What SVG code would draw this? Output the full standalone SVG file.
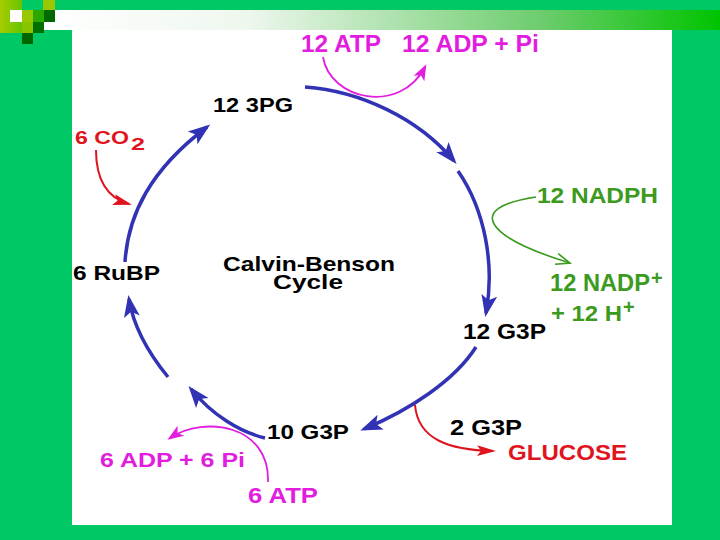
<svg xmlns="http://www.w3.org/2000/svg" width="720" height="540" viewBox="0 0 720 540">
<defs>
  <linearGradient id="band" x1="0" y1="0" x2="1" y2="0">
    <stop offset="0" stop-color="#ffffff"/>
    <stop offset="0.3" stop-color="#eef7ee"/>
    <stop offset="0.74" stop-color="#6ccc6c"/>
    <stop offset="1" stop-color="#00c400"/>
  </linearGradient>
  <linearGradient id="yg" x1="0" y1="0" x2="1" y2="0">
    <stop offset="0" stop-color="#a8cc00"/>
    <stop offset="1" stop-color="#66c400"/>
  </linearGradient>
  <marker id="ab" markerUnits="userSpaceOnUse" markerWidth="24" markerHeight="18" viewBox="0 0 24 18" refX="18" refY="9" orient="auto">
    <path d="M0,1 L22,9 L0,17 L5,9 Z" fill="#3232B4"/>
  </marker>
  <marker id="am" markerUnits="userSpaceOnUse" markerWidth="18" markerHeight="14" viewBox="0 0 18 14" refX="13" refY="7" orient="auto">
    <path d="M0,1 L16,7 L0,13 L4,7 Z" fill="#E21DE0"/>
  </marker>
  <marker id="ar" markerUnits="userSpaceOnUse" markerWidth="22" markerHeight="14" viewBox="0 0 22 14" refX="16" refY="7" orient="auto">
    <path d="M0,1.5 L19,7 L0,12.5 L4,7 Z" fill="#E0141E"/>
  </marker>
  <marker id="ag" markerUnits="userSpaceOnUse" markerWidth="18" markerHeight="14" viewBox="0 0 18 14" refX="15" refY="7" orient="auto">
    <path d="M1,1.5 L15,7 L1,12.5" fill="none" stroke="#3C9A1E" stroke-width="1.6"/>
  </marker>
</defs>
<style>
  text{font-family:"Liberation Sans",Arial,Helvetica,sans-serif;font-weight:bold;}
  .k{fill:#000000}
  .m{fill:#E21DE0}
  .r{fill:#E0141E}
  .g{fill:#3C9A1E}
  .cyc{fill:none;stroke:#3232B4;stroke-width:3.5;marker-end:url(#ab)}
  .cm{fill:none;stroke:#E21DE0;stroke-width:1.8;marker-end:url(#am)}
  .cr{fill:none;stroke:#E0141E;stroke-width:2;marker-end:url(#ar)}
  .cg{fill:none;stroke:#3C9A1E;stroke-width:1.6;marker-end:url(#ag)}
</style>

<!-- background frame -->
<rect x="0" y="0" width="720" height="540" fill="#00C864"/>
<rect x="44" y="10" width="676" height="20" fill="url(#band)"/>
<rect x="72" y="30" width="600" height="495" fill="#ffffff"/>
<rect x="0" y="0" width="22" height="33" fill="url(#yg)"/>
<rect x="10" y="10" width="12" height="12" fill="#ffffff"/>
<rect x="43" y="0" width="12" height="10" fill="#99c800"/>
<rect x="22" y="10" width="11" height="12" fill="#99c800"/>
<rect x="33" y="10" width="11" height="12" fill="#2aa800"/>
<rect x="44" y="10" width="11" height="12" fill="#006a00"/>
<rect x="22" y="22" width="11" height="11" fill="#88c400"/>
<rect x="33" y="22" width="11" height="11" fill="#007000"/>
<rect x="22" y="33" width="11" height="11" fill="#006600"/>

<!-- connectors -->
<g id="connectors">
  <path class="cyc" d="M125,262 C128,215 150,170 207,127"/>
  <path class="cyc" d="M305,87 C360,91 418,118 454,161"/>
  <path class="cyc" d="M458,171 C485,210 495,265 486,313"/>
  <path class="cyc" d="M476,347 C455,380 410,410 364,429"/>
  <path class="cyc" d="M265,438 C240,432 212,415 191,389"/>
  <path class="cyc" d="M168,377 C150,355 134,330 129,299"/>
  <path class="cm" d="M323,57 C330,100 400,115 425,67"/>
  <path class="cm" d="M268,482 C270,425 205,415 170,438"/>
  <path class="cr" d="M96,150 C96,180 108,198 129,204"/>
  <path class="cr" d="M415,405 C418,440 450,450 493,451"/>
  <path class="cg" d="M536,197 C462,208 488,238 570,263"/>
</g>

<!-- nodes -->
<g id="n-3pg"><text class="k" x="213" y="112" font-size="20" textLength="80" lengthAdjust="spacingAndGlyphs">12 3PG</text></g>
<g id="n-atp12"><text class="m" x="301" y="52" font-size="24" textLength="80" lengthAdjust="spacingAndGlyphs">12 ATP</text></g>
<g id="n-adp12"><text class="m" x="402" y="52" font-size="24" textLength="137" lengthAdjust="spacingAndGlyphs">12 ADP + Pi</text></g>
<g id="n-co2">
  <text class="r" x="75" y="144" font-size="19" textLength="54" lengthAdjust="spacingAndGlyphs">6 CO</text>
  <text class="r" x="131" y="149.5" font-size="16" textLength="14" lengthAdjust="spacingAndGlyphs">2</text>
</g>
<g id="n-nadph"><text class="g" x="537" y="202.5" font-size="22" textLength="121" lengthAdjust="spacingAndGlyphs">12 NADPH</text></g>
<g id="n-nadp">
  <text class="g" x="550" y="291" font-size="23" textLength="100" lengthAdjust="spacingAndGlyphs">12 NADP</text>
  <text class="g" x="651" y="285" font-size="20">+</text>
  <text class="g" x="551" y="321" font-size="22" textLength="71" lengthAdjust="spacingAndGlyphs">+ 12 H</text>
  <text class="g" x="623" y="314" font-size="20">+</text>
</g>
<g id="n-g3p12"><text class="k" x="463" y="338.5" font-size="22" textLength="83" lengthAdjust="spacingAndGlyphs">12 G3P</text></g>
<g id="n-title">
  <text class="k" x="223" y="271" font-size="21" textLength="172" lengthAdjust="spacingAndGlyphs">Calvin-Benson</text>
  <text class="k" x="273" y="288.5" font-size="21" textLength="70" lengthAdjust="spacingAndGlyphs">Cycle</text>
</g>
<g id="n-rubp"><text class="k" x="73" y="280" font-size="20" textLength="87" lengthAdjust="spacingAndGlyphs">6 RuBP</text></g>
<g id="n-g3p10"><text class="k" x="267" y="438.5" font-size="21" textLength="82" lengthAdjust="spacingAndGlyphs">10 G3P</text></g>
<g id="n-adp6"><text class="m" x="100" y="467" font-size="21" textLength="145" lengthAdjust="spacingAndGlyphs">6 ADP + 6 Pi</text></g>
<g id="n-atp6"><text class="m" x="248" y="502.5" font-size="22" textLength="70" lengthAdjust="spacingAndGlyphs">6 ATP</text></g>
<g id="n-g3p2"><text class="k" x="450" y="434.5" font-size="22" textLength="72" lengthAdjust="spacingAndGlyphs">2 G3P</text></g>
<g id="n-glucose"><text class="r" x="508" y="459.5" font-size="22" textLength="119" lengthAdjust="spacingAndGlyphs">GLUCOSE</text></g>
</svg>
